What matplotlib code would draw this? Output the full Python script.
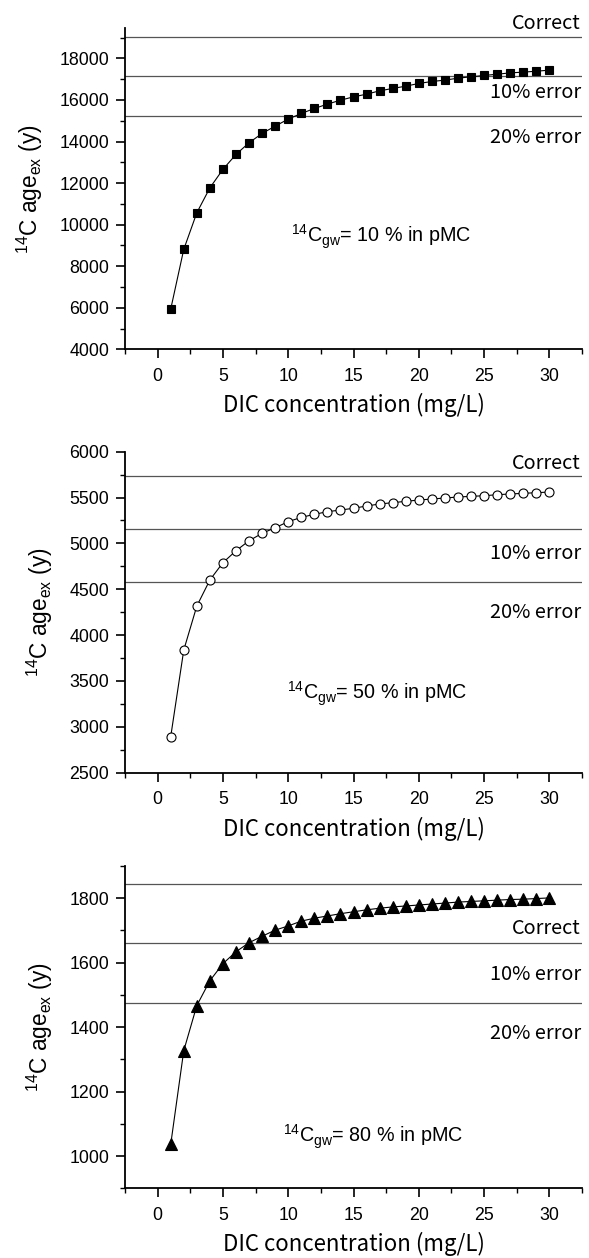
import matplotlib
matplotlib.use("Agg")
import matplotlib.pyplot as plt
from matplotlib.ticker import MultipleLocator

plt.rcParams['font.family'] = ['Liberation Sans', 'DejaVu Sans']
plt.rcParams['mathtext.default'] = 'regular'

dic = list(range(1, 31))

age_10pmc = [5930, 8810, 10570, 11770, 12660, 13380, 13940, 14390, 14740, 15080,
             15350, 15590, 15800, 15990, 16150, 16280, 16440, 16555, 16665, 16795,
             16890, 16955, 17050, 17115, 17180, 17240, 17305, 17340, 17385, 17435]
age_50pmc = [2892, 3837, 4317, 4601, 4790, 4920, 5029, 5110, 5171, 5237,
             5284, 5317, 5346, 5364, 5383, 5408, 5430, 5444, 5459, 5473,
             5484, 5495, 5506, 5513, 5520, 5531, 5539, 5546, 5553, 5560]
age_80pmc = [1036, 1327, 1467, 1544, 1597, 1634, 1662, 1682, 1701, 1714,
             1729, 1738, 1745, 1752, 1758, 1764, 1769, 1773, 1776, 1779,
             1782, 1785, 1788, 1790, 1792, 1794, 1796, 1797, 1799, 1801]

ref_10pmc = [19035, 17132, 15228]   # correct, 10% error, 20% error
ref_50pmc = [5730, 5157, 4584]
ref_80pmc = [1845, 1660, 1476]

ref_labels = ["Correct", "10% error", "20% error"]
pmc_labels = ["10", "50", "80"]
xlabel = 'DIC concentration (mg/L)'
ylabel = r'$^{14}$C age$_{ex}$ (y)'

W, H = 589, 1258
fig = plt.figure(figsize=(W / 100, H / 100), dpi=100)
renderer = fig.canvas.get_renderer()

lib = ['Liberation Sans', 'DejaVu Sans']
cjk = ['Noto Sans CJK JP', 'DejaVu Sans']


def fit_size(txt, family, target_px, base=14.0):
    t = fig.text(0, 0, txt, fontsize=base, family=family)
    w = t.get_window_extent(renderer).width
    t.remove()
    return base * target_px / w


tick_size = fit_size('18000', lib, 49.5)
ylab_size = fit_size(ylabel, lib, 130)
xlab_size = fit_size(xlabel, cjk, 262)
ref_size = fit_size('10% error', cjk, 91)
ann_size = fit_size(r'$^{14}$C$_{gw}$= 10 % in pMC', lib, 181)

left = 125 / W
width = 457 / W
panels = [
    dict(top=28.3, bottom=349.3, ylim=(4000, 19450), major=2000, minor=1000,
         y=age_10pmc, ref=ref_10pmc, marker='s', ms=6, mfc='black',
         lab_y=[19650, 16350, 14190], ann=(10.2, 9400), pmc=pmc_labels[0]),
    dict(top=451.7, bottom=772.7, ylim=(2500, 6000), major=500, minor=250,
         y=age_50pmc, ref=ref_50pmc, marker='o', ms=6.5, mfc='white',
         lab_y=[5866, 4884, 4246], ann=(9.9, 3358), pmc=pmc_labels[1]),
    dict(top=866.0, bottom=1188.3, ylim=(900, 1900), major=200, minor=100,
         y=age_80pmc, ref=ref_80pmc, marker='^', ms=8.5, mfc='black',
         lab_y=[1705, 1561, 1379], ann=(9.6, 1061), pmc=pmc_labels[2]),
]

for p in panels:
    ax = fig.add_axes([left, 1 - p['bottom'] / H, width, (p['bottom'] - p['top']) / H])
    for r in p['ref']:
        ax.axhline(r, color='#555555', lw=0.9, zorder=1)
    ax.plot(dic, p['y'], color='black', lw=0.8, marker=p['marker'], ms=p['ms'],
            mfc=p['mfc'], mec='black', mew=0.8, zorder=3)
    ax.set_xlim(-2.5, 32.5)
    ax.set_ylim(*p['ylim'])
    ax.xaxis.set_major_locator(MultipleLocator(5))
    ax.xaxis.set_minor_locator(MultipleLocator(2.5))
    ax.yaxis.set_major_locator(MultipleLocator(p['major']))
    ax.yaxis.set_minor_locator(MultipleLocator(p['minor']))
    for s in ['top', 'right']:
        ax.spines[s].set_visible(False)
    for s in ['left', 'bottom']:
        ax.spines[s].set_linewidth(1.3)
    ax.tick_params(which='major', direction='out', length=6.5, width=1.2,
                   labelsize=tick_size)
    ax.tick_params(which='minor', direction='out', length=3.5, width=1.0)
    ax.tick_params(axis='x', which='major', pad=7)
    ax.tick_params(axis='y', which='major', pad=5)
    ax.set_xlabel(xlabel, family=cjk, fontsize=xlab_size, labelpad=6)
    ax.set_ylabel(ylabel, fontsize=ylab_size, labelpad=10)
    for lab, ly in zip(ref_labels, p['lab_y']):
        ax.text(32.4, ly, lab, ha='right', va='center', family=cjk, fontsize=ref_size,
                clip_on=False)
    ax.text(p['ann'][0], p['ann'][1],
            r'$^{14}$C$_{gw}$= ' + p['pmc'] + ' % in pMC',
            ha='left', va='center', fontsize=ann_size)

fig.savefig('out.png', dpi=100)
